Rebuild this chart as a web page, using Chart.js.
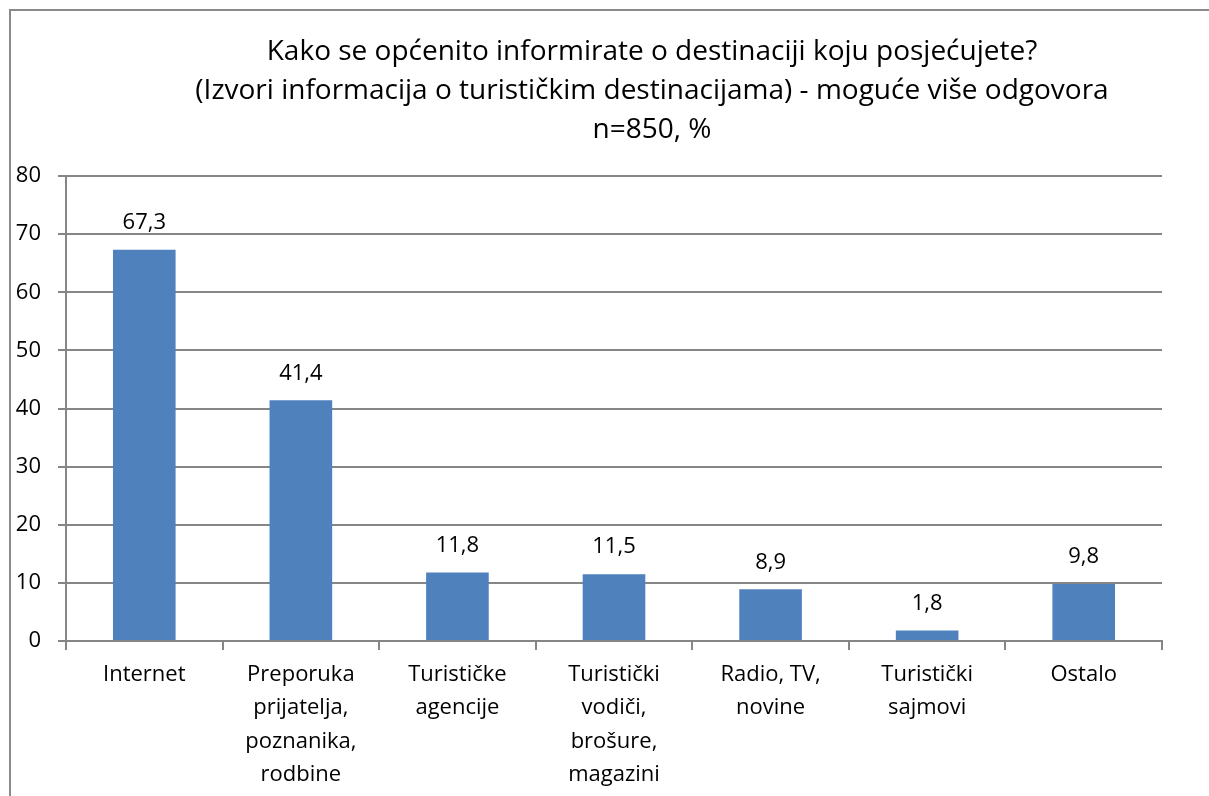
<!DOCTYPE html>
<html>
<head>
<meta charset="utf-8">
<script src="https://cdn.jsdelivr.net/npm/chart.js@4"></script>
<style>
  html, body { margin: 0; padding: 0; background: #fff; }
  #okvir { position: absolute; left: 0; top: 0; width: 1209px; height: 796px; }
  #rub { position: absolute; left: 9px; top: 9px; width: 1300px; height: 900px; border-left: 2px solid #8a8a8a; border-top: 2px solid #8a8a8a; box-sizing: border-box; }
</style>
</head>
<body>
<div id="okvir">
  <div id="rub"></div>
  <canvas id="grafikon" width="1209" height="796"></canvas>
</div>
<script>
const kategorije = [
    ['Internet'],
    ['Preporuka', 'prijatelja,', 'poznanika,', 'rodbine'],
    ['Turističke', 'agencije'],
    ['Turistički', 'vodiči,', 'brošure,', 'magazini'],
    ['Radio, TV,', 'novine'],
    ['Turistički', 'sajmovi'],
    ['Ostalo']
];
const postoci = [67.3, 41.4, 11.8, 11.5, 8.9, 1.8, 9.8];
const naslov = [
    'Kako se općenito informirate o destinaciji koju posjećujete?',
    '(Izvori informacija o turističkim destinacijama) - moguće više odgovora',
    'n=850, %'
];

const font = '"Open Sans", "Noto Sans", sans-serif';

// naslov i oznake vrijednosti iznad stupaca
const crtajTekst = {
    id: 'crtajTekst',
    afterDatasetsDraw(chart) {
        const ctx = chart.ctx;
        ctx.save();
        ctx.fillStyle = '#000';
        ctx.textAlign = 'center';
        ctx.textBaseline = 'middle';
        ctx.font = '22px ' + font;
        const meta = chart.getDatasetMeta(0);
        meta.data.forEach((bar, i) => {
            ctx.fillText(postoci[i].toFixed(1).replace('.', ','), bar.x, bar.y - 27);
        });
        ctx.font = '28px ' + font;
        naslov.forEach((red, i) => {
            ctx.fillText(red, 652, 52 + i * 39);
        });
        ctx.restore();
    }
};

new Chart(document.getElementById('grafikon'), {
    type: 'bar',
    data: {
        labels: kategorije,
        datasets: [{
            data: postoci,
            backgroundColor: '#4f81bd',
            borderWidth: 0,
            categoryPercentage: 1,
            barPercentage: 0.4
        }]
    },
    options: {
        responsive: false,
        animation: false,
        layout: { padding: { left: 10, right: 47, top: 176, bottom: 0 } },
        plugins: {
            legend: { display: false },
            tooltip: { enabled: false }
        },
        scales: {
            x: {
                afterFit(scale) { scale.height = 155; },
                grid: {
                    offset: true,
                    drawOnChartArea: false,
                    drawTicks: true,
                    tickLength: 9,
                    color: '#868686',
                    lineWidth: 2
                },
                border: { color: '#868686', width: 2 },
                ticks: {
                    color: '#000',
                    maxRotation: 0,
                    autoSkip: false,
                    padding: 8,
                    font: { family: font, size: 22, lineHeight: 1.52 }
                }
            },
            y: {
                min: 0,
                max: 80,
                afterFit(scale) { scale.width = 56; },
                grid: {
                    color: '#868686',
                    lineWidth: 2,
                    tickLength: 8
                },
                border: { color: '#868686', width: 2 },
                ticks: {
                    stepSize: 10,
                    color: '#000',
                    padding: 17,
                    font: { family: font, size: 22 }
                }
            }
        }
    },
    plugins: [crtajTekst]
});
</script>
</body>
</html>
